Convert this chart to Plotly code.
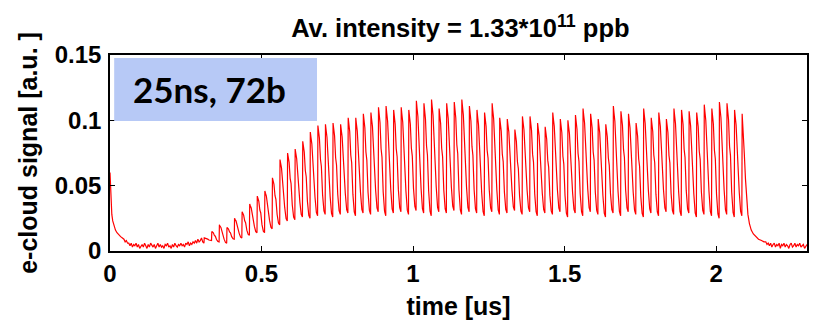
import plotly.graph_objects as go

# Bunch train: 72 bunches spaced by 25 ns
bunch_count = 72
bunch_spacing_us = 0.025
train_start_us = 0.310

# Peak e-cloud signal after each bunch passage [a.u.]
bunch_peak = [
    0.010, 0.015, 0.020, 0.018, 0.025, 0.030, 0.036, 0.042, 0.046, 0.056,
    0.070, 0.075, 0.078, 0.084, 0.091, 0.096, 0.097, 0.098, 0.097, 0.102,
    0.102, 0.105, 0.106, 0.110, 0.111, 0.108, 0.110, 0.108, 0.115, 0.113,
    0.116, 0.109, 0.113, 0.114, 0.116, 0.111, 0.108, 0.106, 0.113, 0.102,
    0.101, 0.093, 0.103, 0.103, 0.098, 0.095, 0.106, 0.101, 0.100, 0.104,
    0.109, 0.105, 0.101, 0.097, 0.111, 0.107, 0.105, 0.098, 0.109, 0.102,
    0.106, 0.101, 0.109, 0.108, 0.107, 0.106, 0.112, 0.109, 0.114, 0.113,
    0.108, 0.105,
]

# Signal level just before each bunch arrives [a.u.]
bunch_floor = [
    0.006, 0.008, 0.007, 0.006, 0.009, 0.010, 0.012, 0.014, 0.014, 0.017,
    0.020, 0.023, 0.024, 0.026, 0.025, 0.027, 0.028, 0.026, 0.028, 0.029,
    0.027, 0.029, 0.028, 0.030, 0.027, 0.029, 0.030, 0.028, 0.031, 0.029,
    0.027, 0.030, 0.029, 0.031, 0.028, 0.030, 0.029, 0.027, 0.030, 0.028,
    0.029, 0.031, 0.028, 0.030, 0.027, 0.029, 0.028, 0.030, 0.026, 0.029,
    0.027, 0.030, 0.028, 0.026, 0.029, 0.027, 0.030, 0.028, 0.026, 0.029,
    0.027, 0.030, 0.028, 0.027, 0.029, 0.026, 0.028, 0.027, 0.025, 0.028,
    0.026, 0.027,
]

# One 25 ns cycle: rise to the peak, then the stepped decay profile
# (phase as a fraction of the spacing, level relative to the next floor)
peak_phase = 0.04
decay_phase = [0.12, 0.24, 0.38, 0.50, 0.66, 0.84]
decay_level = [0.94, 0.86, 0.62, 0.54, 0.22, 0.04]

# Cloud left over at the start of the record
head_t = [0.000, 0.002, 0.004, 0.006, 0.009, 0.013, 0.018, 0.023, 0.029, 0.035, 0.041]
head_v = [0.060, 0.046, 0.035, 0.028, 0.023, 0.019, 0.016, 0.014, 0.012, 0.011, 0.010]

# Baseline before the train, one sample every 4 ns
noise_step_us = 0.004
pre_noise_start = 0.046
pre_noise = [
    0.009, 0.007, 0.008, 0.006, 0.006, 0.004, 0.006, 0.003, 0.005, 0.004,
    0.006, 0.003, 0.005, 0.002, 0.004, 0.005, 0.003, 0.006, 0.004, 0.002,
    0.005, 0.003, 0.006, 0.004, 0.003, 0.005, 0.002, 0.004, 0.006, 0.003,
    0.005, 0.003, 0.004, 0.002, 0.005, 0.004, 0.006, 0.003, 0.004, 0.002,
    0.005, 0.003, 0.006, 0.004, 0.003, 0.005, 0.004, 0.006, 0.004, 0.005,
    0.003, 0.006, 0.005, 0.007, 0.004, 0.006, 0.005, 0.007, 0.006, 0.008,
    0.006, 0.009, 0.007, 0.008, 0.010, 0.007,
]

# Decay after the last bunch
tail_t = [2.089, 2.093, 2.097, 2.101, 2.105, 2.110, 2.116, 2.123, 2.131, 2.140, 2.150, 2.158]
tail_v = [0.095, 0.075, 0.055, 0.040, 0.028, 0.021, 0.016, 0.013, 0.011, 0.009, 0.008, 0.007]

# Baseline after the train
post_noise_start = 2.164
post_noise = [
    0.007, 0.005, 0.006, 0.004, 0.006, 0.003, 0.005, 0.006, 0.003, 0.005,
    0.004, 0.006, 0.002, 0.005, 0.004, 0.006, 0.003, 0.005, 0.004, 0.002,
    0.005, 0.006, 0.003, 0.004, 0.006, 0.003, 0.005, 0.004, 0.006, 0.003,
    0.004, 0.005, 0.002, 0.004, 0.005, 0.003,
]

x_ticks = [0, 0.5, 1, 1.5, 2]
x_tick_text = ["0", "0.5", "1", "1.5", "2"]
y_ticks = [0, 0.05, 0.1, 0.15]
y_tick_text = ["0", "0.05", "0.1", "0.15"]

# Assemble the time trace
t = list(head_t)
v = list(head_v)
for i, val in enumerate(pre_noise):
    t.append(pre_noise_start + i * noise_step_us)
    v.append(val)
for k in range(bunch_count):
    t0 = train_start_us + k * bunch_spacing_us
    hi = bunch_peak[k]
    t.append(t0)
    v.append(bunch_floor[k])
    t.append(t0 + peak_phase * bunch_spacing_us)
    v.append(hi)
    if k < bunch_count - 1:
        lo = bunch_floor[k + 1]
        for ph, f in zip(decay_phase, decay_level):
            t.append(t0 + ph * bunch_spacing_us)
            v.append(lo + f * (hi - lo))
t += tail_t
v += tail_v
for i, val in enumerate(post_noise):
    t.append(post_noise_start + i * noise_step_us)
    v.append(val)

sans = "Liberation Sans, Arial, sans-serif"
tick_font = dict(family=sans, size=24, color="black", weight="bold")
label_font = dict(family=sans, size=25, color="black", weight="bold")

fig = go.Figure()
fig.add_trace(go.Scatter(
    x=t, y=v, mode="lines",
    line=dict(color="#ff0000", width=1.2),
    hoverinfo="skip", showlegend=False,
))

fig.add_shape(
    type="rect", xref="x domain", yref="y domain",
    x0=0.006, x1=0.297, y0=0.663, y1=0.985,
    fillcolor="rgb(183,201,246)", line=dict(width=0), layer="above",
)
fig.add_annotation(
    text="25ns, 72b", xref="x domain", yref="y domain",
    x=0.143, y=0.826, xanchor="center", yanchor="middle", showarrow=False,
    font=dict(family="Lato, Open Sans, sans-serif", size=35, color="black", weight="bold"),
)

fig.update_layout(
    width=817, height=324,
    margin=dict(l=110, r=8, t=55, b=67),
    paper_bgcolor="white", plot_bgcolor="white",
    title=dict(
        text="Av. intensity = 1.33*10<sup>11</sup> ppb",
        x=0.5635, xanchor="center", y=0.912, yanchor="middle", yref="container",
        font=dict(family=sans, size=25.5, color="black", weight="bold"),
    ),
    xaxis=dict(
        range=[0, 2.3], tickvals=x_ticks, ticktext=x_tick_text,
        ticks="inside", ticklen=5, tickcolor="black", tickwidth=1,
        showline=True, linecolor="black", linewidth=1.5, mirror="ticks",
        showgrid=False, zeroline=False, tickfont=tick_font,
        title=dict(text="time [us]", font=label_font, standoff=12),
    ),
    yaxis=dict(
        range=[0, 0.15], tickvals=y_ticks, ticktext=y_tick_text,
        ticks="inside", ticklen=5, tickcolor="black", tickwidth=1,
        showline=True, linecolor="black", linewidth=1.5, mirror="ticks",
        showgrid=False, zeroline=False, tickfont=tick_font,
        ticklabelstandoff=2,
        title=dict(text="e-cloud signal [a.u. ]", font=label_font, standoff=10),
    ),
)

fig.write_html("out.html")
